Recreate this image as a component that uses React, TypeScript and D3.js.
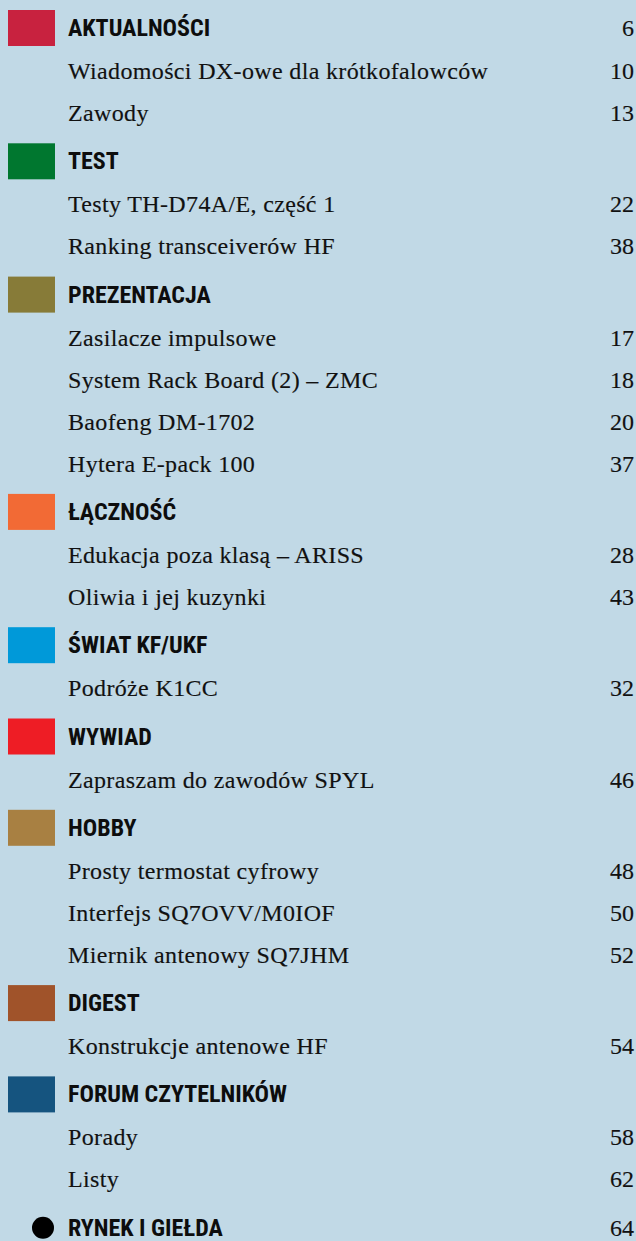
import React, { useEffect, useRef } from "react";
import * as d3 from "d3";

// ---- data ----
const sectionNames = [
  "AKTUALNOŚCI", "TEST", "PREZENTACJA", "ŁĄCZNOŚĆ", "ŚWIAT KF/UKF",
  "WYWIAD", "HOBBY", "DIGEST", "FORUM CZYTELNIKÓW", "RYNEK I GIEŁDA",
];
const sectionPages: (number | null)[] = [6, null, null, null, null, null, null, null, null, 64];
const sectionColors = [
  "#c8223f", "#00772f", "#877b38", "#f26a35", "#0099d9",
  "#ee1d25", "#a88042", "#a0532a", "#15547f", "#000000",
];
const sectionMarker = ["square", "square", "square", "square", "square", "square", "square", "square", "square", "circle"];
const articleTitles: string[][] = [
  ["Wiadomości DX-owe dla krótkofalowców", "Zawody"],
  ["Testy TH-D74A/E, część 1", "Ranking transceiverów HF"],
  ["Zasilacze impulsowe", "System Rack Board (2) – ZMC", "Baofeng DM-1702", "Hytera E-pack 100"],
  ["Edukacja poza klasą – ARISS", "Oliwia i jej kuzynki"],
  ["Podróże K1CC"],
  ["Zapraszam do zawodów SPYL"],
  ["Prosty termostat cyfrowy", "Interfejs SQ7OVV/M0IOF", "Miernik antenowy SQ7JHM"],
  ["Konstrukcje antenowe HF"],
  ["Porady", "Listy"],
  [],
];
const articlePages: number[][] = [
  [10, 13], [22, 38], [17, 18, 20, 37], [28, 43], [32], [46], [48, 50, 52], [54], [58, 62], [],
];

type Row = { kind: "head" | "item"; text: string; page: number | null; sec: number; y: number };

const W = 636, H = 1241;

export default function App() {
  const ref = useRef<SVGSVGElement>(null);
  useEffect(() => {
    const svg = d3.select(ref.current);
    svg.selectAll("*").remove();
    const rows: Row[] = [];
    let y = 28;
    let prev: "head" | "item" | null = null;
    sectionNames.forEach((name, si) => {
      if (prev) y += prev === "item" ? 48.3 : 43;
      rows.push({ kind: "head", text: name, page: sectionPages[si], sec: si, y });
      prev = "head";
      articleTitles[si].forEach((t, ai) => {
        y += prev === "head" ? 43 : 42;
        rows.push({ kind: "item", text: t, page: articlePages[si][ai], sec: si, y });
        prev = "item";
      });
    });

    svg.append("rect").attr("width", W).attr("height", H).attr("fill", "#c1d9e6");

    const heads = rows.filter((r) => r.kind === "head");
    svg.selectAll("rect.mk").data(heads.filter((r) => sectionMarker[r.sec] === "square")).join("rect")
      .attr("class", "mk").attr("x", 8).attr("y", (d) => d.y - 18).attr("width", 47).attr("height", 36)
      .attr("fill", (d) => sectionColors[d.sec]);
    svg.selectAll("circle.mk").data(heads.filter((r) => sectionMarker[r.sec] === "circle")).join("circle")
      .attr("class", "mk").attr("cx", 43).attr("cy", (d) => d.y).attr("r", 11)
      .attr("fill", (d) => sectionColors[d.sec]);

    svg.selectAll("text.head").data(heads).join("text")
      .attr("class", "head").attr("x", 68).attr("y", (d) => d.y + 8)
      .attr("font-family", "'Liberation Sans Narrow', 'Roboto Condensed', 'Liberation Sans', sans-serif")
      .attr("font-weight", 700).attr("font-size", 24).attr("fill", "#0d0d0d")
      .text((d) => d.text);

    const items = rows.filter((r) => r.kind === "item");
    svg.selectAll("text.item").data(items).join("text")
      .attr("class", "item").attr("x", 68).attr("y", (d) => d.y + 8)
      .attr("font-family", "'Liberation Serif', 'Times New Roman', serif")
      .attr("font-size", 24).attr("letter-spacing", 0.35).attr("fill", "#111")
      .attr("stroke", "#111").attr("stroke-width", 0.15)
      .text((d) => d.text);

    svg.selectAll("text.pg").data(rows.filter((r) => r.page !== null)).join("text")
      .attr("class", "pg").attr("x", 634).attr("y", (d) => d.y + 8).attr("text-anchor", "end")
      .attr("font-family", "'Liberation Serif', 'Times New Roman', serif")
      .attr("font-size", 24).attr("fill", "#111")
      .attr("stroke", "#111").attr("stroke-width", 0.15)
      .text((d) => String(d.page));
  }, []);
  return (
    <div style={{ position: "absolute", left: 0, top: 0 }}>
      <svg ref={ref} width={W} height={H} style={{ display: "block" }} />
    </div>
  );
}
